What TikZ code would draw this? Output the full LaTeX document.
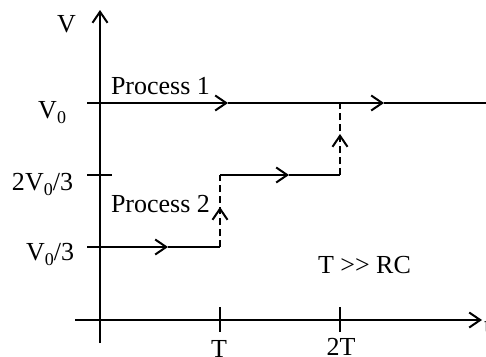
\documentclass[tikz,border=0pt]{standalone}
\usepackage{fontspec}
\setmainfont{Liberation Serif}
\usetikzlibrary{arrows.meta}
\newcommand\subz{\raisebox{-5pt}{\fontsize{18}{20}\selectfont 0}}
\begin{document}
\begin{tikzpicture}[x=1pt,y=-1pt,line width=2pt,
  barb/.style={-{Straight Barb[length=11pt,width=15pt,line width=2pt]}},
  lbl/.style={font=\fontsize{26}{30}\selectfont,inner sep=0pt},
  dashline/.style={line width=1.6pt,dash pattern=on 7pt off 4pt},
  tick/.style={line width=1.8pt}]
\useasboundingbox (0,0) rectangle (486,356);
% axes
\coordinate (xs) at (75,320);
\coordinate (xe) at (482,320);
\coordinate (ys) at (100,343);
\coordinate (ye) at (100,10);
\draw[barb] (xs) -- (xe);
\draw[barb] (ys) -- (ye);
% ticks
\coordinate (ta1) at (87,103);  \coordinate (tb1) at (112,103);
\coordinate (ta2) at (87,175);  \coordinate (tb2) at (112,175);
\coordinate (ta3) at (87,247);  \coordinate (tb3) at (112,247);
\coordinate (tc1) at (220,307); \coordinate (td1) at (220,332);
\coordinate (tc2) at (340,307); \coordinate (td2) at (340,332);
\draw[tick] (ta1) -- (tb1);
\draw[tick] (ta2) -- (tb2);
\draw[tick] (ta3) -- (tb3);
\draw[tick] (tc1) -- (td1);
\draw[tick] (tc2) -- (td2);
% process 1
\coordinate (p1a) at (100,103);
\coordinate (p1m1) at (228,103);
\coordinate (p1m2) at (384,103);
\coordinate (p1b) at (486,103);
\draw[barb] (p1a) -- (p1m1);
\draw[barb] (p1m1) -- (p1m2);
\draw (p1m2) -- (p1b);
% process 2
\coordinate (q0) at (100,247);
\coordinate (qm0) at (168,247);
\coordinate (q1) at (220,247);
\coordinate (qv1) at (220,207);
\coordinate (q2) at (220,175);
\coordinate (qm2) at (289,175);
\coordinate (q3) at (340,175);
\coordinate (qv3) at (340,134);
\coordinate (q4) at (340,103);
\draw[barb] (q0) -- (qm0);
\draw (qm0) -- (q1);
\draw[dashline] (q1) -- (q2);
\draw[dashline,barb] (q1) -- (qv1);
\draw[barb] (q2) -- (qm2);
\draw (qm2) -- (q3);
\draw[dashline] (q3) -- (q4);
\draw[dashline,barb] (q3) -- (qv3);
% labels
\node[lbl,anchor=base] (lv) at (66.5,32) {V};
\node[lbl,anchor=base east] (lv0) at (67,118) {V\subz};
\node[lbl,anchor=base east] (l2v) at (74,190) {2V\subz/3};
\node[lbl,anchor=base east] (lv3) at (75,260) {V\subz/3};
\node[lbl,anchor=base west] (lp1) at (110,94) {Process 1};
\node[lbl,anchor=base west] (lp2) at (110,212) {Process 2};
\node[lbl,anchor=base west] (lrc) at (317,273) {T >\kern0pt> RC};
\node[lbl,anchor=base] (lt1) at (219,357) {T};
\node[lbl,anchor=base] (lt2) at (341,355) {2T};
\node[lbl,anchor=base west] (lt) at (483,333) {t};
\end{tikzpicture}
\end{document}
